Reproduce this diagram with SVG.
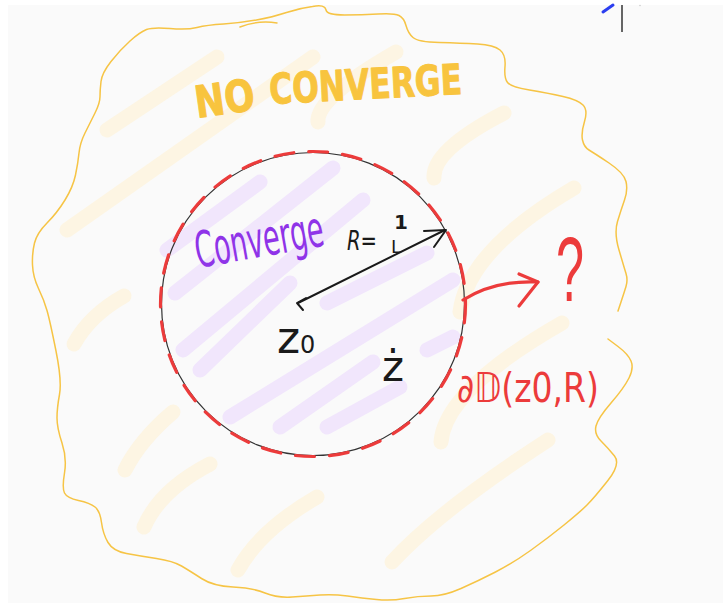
<svg xmlns="http://www.w3.org/2000/svg" width="723" height="603" viewBox="0 0 723 603">
<style>
.yh{stroke:#fdf5e3;stroke-width:15;stroke-linecap:round;fill:none}
.ph{stroke:#f1e6fc;stroke-width:15;stroke-linecap:round;fill:none}
.yo{stroke:#f6c445;stroke-width:1.5;fill:none;stroke-linecap:round;stroke-linejoin:round}
.blk{stroke:#1a1a1a;stroke-width:2;fill:none;stroke-linecap:round;stroke-linejoin:round}
.red{stroke:#ec3b3b;stroke-width:3.2;fill:none;stroke-linecap:round;stroke-linejoin:round}
.hand{font-family:"DejaVu Sans","Liberation Sans",sans-serif}
</style>
<rect x="0" y="0" width="723" height="603" fill="#ffffff"/>
<rect x="8" y="5" width="715" height="598" fill="#fafafa"/>

<g id="yellow-hatching">
<path class="yh" d="M107,130 L217,57"/>
<path class="yh" d="M67,230 L313,57"/>
<path class="yh" d="M318,122 Q316,98 396,52"/>
<path class="yh" d="M434,178 Q432,150 504,113"/>
<path class="yh" d="M460,312 Q468,250 574,188"/>
<path class="yh" d="M441,442 Q445,390 562,323"/>
<path class="yh" d="M392,562 Q440,510 548,440"/>
<path class="yh" d="M74,344 Q90,315 124,296"/>
<path class="yh" d="M125,470 Q140,440 173,412"/>
<path class="yh" d="M144,527 Q160,490 210,464"/>
<path class="yh" d="M238,570 Q260,530 317,497"/>
</g>

<g id="no-converge-region">
<path class="yo" d="M608,339 L618,346.5 Q628,354 631,361 Q634,368 629,378 Q624,388 611,403 Q598,418 596,426 Q594,434 601,441 Q608,448 614.5,456 Q621,464 607.5,481 Q594,498 587,505 Q580,512 564,525 Q548,538 530.5,550.5 Q513,563 495.5,572 Q478,581 461,588.5 Q444,596 431,596 Q418,596 404.5,598.5 Q391,601 376.5,599.5 Q362,598 347.5,596 Q333,594 320,595 Q307,596 292,597 Q277,598 265,593 Q253,588 233,587 Q213,586 201.5,578.5 Q190,571 181.5,566 Q173,561 156.5,558.5 Q140,556 126.5,553.5 Q113,551 108,542.5 Q103,534 101.5,522.5 Q100,511 95,507 Q90,503 78.5,500.5 Q67,498 64.5,493 Q62,488 64.5,473 Q67,458 62,443 Q57,428 57,418 Q57,408 59.5,394.5 Q62,381 56,351 Q50,321 47,310.5 Q44,300 38.5,288.5 Q33,277 32.5,265 Q32,253 34.5,243 Q37,233 47,223 Q57,213 65,200 Q73,187 75.5,175 Q78,163 79,153 Q80,143 85,133 Q90,123 95,113 Q100,103 100,96.5 Q100,90 101,81.5 Q102,73 111,61.5 Q120,50 130,41 Q140,32 146.5,29.5 Q153,27 170,28.5 Q187,30 197,27.5 Q207,25 223.5,24 Q240,23 256.5,20 Q273,17 286.5,12.5 Q300,8 312.5,6.5 Q325,4 326,10 Q327,15 344.5,15 Q362,15 378,14 Q394,13 399,15.5 Q404,18 406,25.5 Q408,33 413,37.5 Q418,42 439.5,42.5 Q461,43 477.5,44 Q494,45 500,50 Q506,55 505,66.5 Q504,78 507.5,82.5 Q511,87 529.5,90 Q548,93 563,96.5 Q578,100 583,105 Q588,110 584.5,121.5 Q581,133 582.5,140 Q584,147 589,150 Q594,153 609,163 Q624,173 626,181.5 Q628,190 624.5,200 Q621,210 617.5,221.5 Q614,233 619,250 Q624,267 626,273.5 Q628,280 626,286.5 Q624,293 621,302 L618,311"/>
<path class="yo" d="M240,27 Q258,20 277,23"/>
<text x="197" y="118" class="hand" font-size="44" font-weight="bold" fill="#f8c43e" stroke="#f8c43e" stroke-width="1" stroke-linejoin="round" textLength="60" lengthAdjust="spacingAndGlyphs" transform="rotate(-8 197 118)">NO</text>
<text x="270" y="104" class="hand" font-size="42" font-weight="bold" fill="#f8c43e" stroke="#f8c43e" stroke-width="1" stroke-linejoin="round" textLength="193" lengthAdjust="spacingAndGlyphs" transform="rotate(-3 270 104)">CONVERGE</text>
</g>

<g id="converge-disk">
<path class="ph" d="M167,250 L260,182"/>
<path class="ph" d="M175,293 L333,168"/>
<path class="ph" d="M183,350 L363,200"/>
<path class="ph" d="M200,370 L290,283"/>
<path class="ph" d="M327,303 L427,253"/>
<path class="ph" d="M230,417 L453,280"/>
<path class="ph" d="M280,427 L373,362"/>
<path class="ph" d="M327,427 L400,387"/>
<path class="ph" d="M427,350 L453,337"/>
<circle cx="313" cy="304" r="151.5" fill="none" stroke="#333333" stroke-width="1.2"/>
<circle cx="313" cy="304" r="152.5" fill="none" stroke="#ec3b3b" stroke-width="3.2" stroke-linecap="round" stroke-dasharray="19 15"/>
<text x="198" y="268" class="hand" font-size="50" fill="#8f34e8" textLength="130" lengthAdjust="spacingAndGlyphs" transform="rotate(-10 198 268)">Converge</text>
</g>

<g id="connectors">
<path class="blk" d="M298,303 L445,230"/>
<path class="blk" d="M424,231 L446,230 L434,247"/>
<path class="blk" d="M306,298 L297,303 L303,310"/>
<path class="red" d="M463,300 Q495,280 538,282"/>
<path class="red" d="M519,274 L538,282 L519,306"/>
</g>

<g id="radius-label">
<text x="347" y="250" class="hand" font-size="27" font-style="italic" fill="#1a1a1a" textLength="30" lengthAdjust="spacingAndGlyphs">R=</text>
<text x="394" y="229" class="hand" font-size="20" font-weight="bold" fill="#1a1a1a">1</text>
<text x="391" y="253" class="hand" font-size="18" fill="#1a1a1a">L</text>
</g>

<g id="center-label">
<text x="277" y="353" class="hand" font-size="44" fill="#1a1a1a">z<tspan font-size="24">0</tspan></text>
</g>

<g id="point-label">
<text x="382" y="381" class="hand" font-size="42" fill="#1a1a1a">ż</text>
</g>

<g id="boundary-label">
<text x="457" y="402" class="hand" font-size="40" fill="#ec3b3b" textLength="142" lengthAdjust="spacingAndGlyphs">∂𝔻(z0,R)</text>
<text x="556" y="301" font-family="Liberation Sans, sans-serif" font-size="90" fill="#ec3b3b" textLength="28" lengthAdjust="spacingAndGlyphs">?</text>
</g>

<g id="corner-marks">
<path d="M603,12 L613,5" stroke="#2b3ef0" stroke-width="3" stroke-linecap="round" fill="none"/>
<path d="M622,5 L622,32" stroke="#333333" stroke-width="1.5" fill="none"/>
<circle cx="640" cy="5.5" r="0.8" fill="#cccccc"/>
</g>
</svg>
